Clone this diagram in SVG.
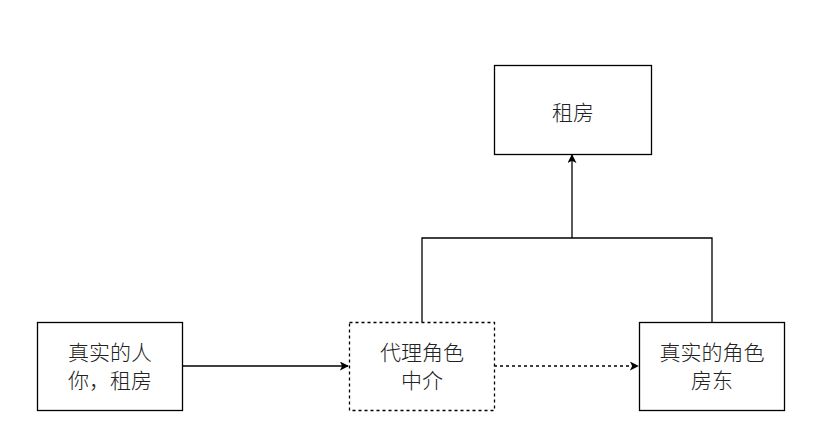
<svg xmlns="http://www.w3.org/2000/svg" width="829" height="444" viewBox="0 0 829 444">
<defs>
<style>
.box{fill:#fff;stroke:#000;stroke-width:1.3}
.dash{stroke-dasharray:3 3}
.t{font-family:"Noto Sans CJK SC","Noto Sans",sans-serif;font-size:21px;font-weight:300;fill:#222;text-anchor:middle}
.ln{fill:none;stroke:#000;stroke-width:1.3}
</style>
<marker id="ah" viewBox="0 0 10 10" refX="9" refY="5" markerWidth="9" markerHeight="9" markerUnits="userSpaceOnUse" orient="auto">
<path d="M0,0 L10,5 L0,10 L2.5,5 Z" fill="#000"/>
</marker>
</defs>
<rect width="829" height="444" fill="#fff"/>
<g id="connectors">
<path class="ln" d="M182,366 H348" marker-end="url(#ah)"/>
<path class="ln dash" d="M494,366 H638" marker-end="url(#ah)"/>
<path class="ln" d="M422,322 V238 H712 V322"/>
<path class="ln" d="M572,238 V155" marker-end="url(#ah)"/>
</g>
<g id="rent">
<rect class="box" x="494.5" y="65.5" width="157" height="89"/>
<text class="t" x="573" y="120">租房</text>
</g>
<g id="real-person">
<rect class="box" x="37.5" y="322.5" width="145" height="88"/>
<text class="t" x="110" y="360">真实的人</text>
<text class="t" x="110" y="388">你，租房</text>
</g>
<g id="proxy">
<rect class="box dash" x="349.5" y="322.5" width="145" height="88"/>
<text class="t" x="422" y="360">代理角色</text>
<text class="t" x="422" y="388">中介</text>
</g>
<g id="landlord">
<rect class="box" x="639.5" y="322.5" width="145" height="88"/>
<text class="t" x="712" y="360">真实的角色</text>
<text class="t" x="712" y="388">房东</text>
</g>
</svg>
